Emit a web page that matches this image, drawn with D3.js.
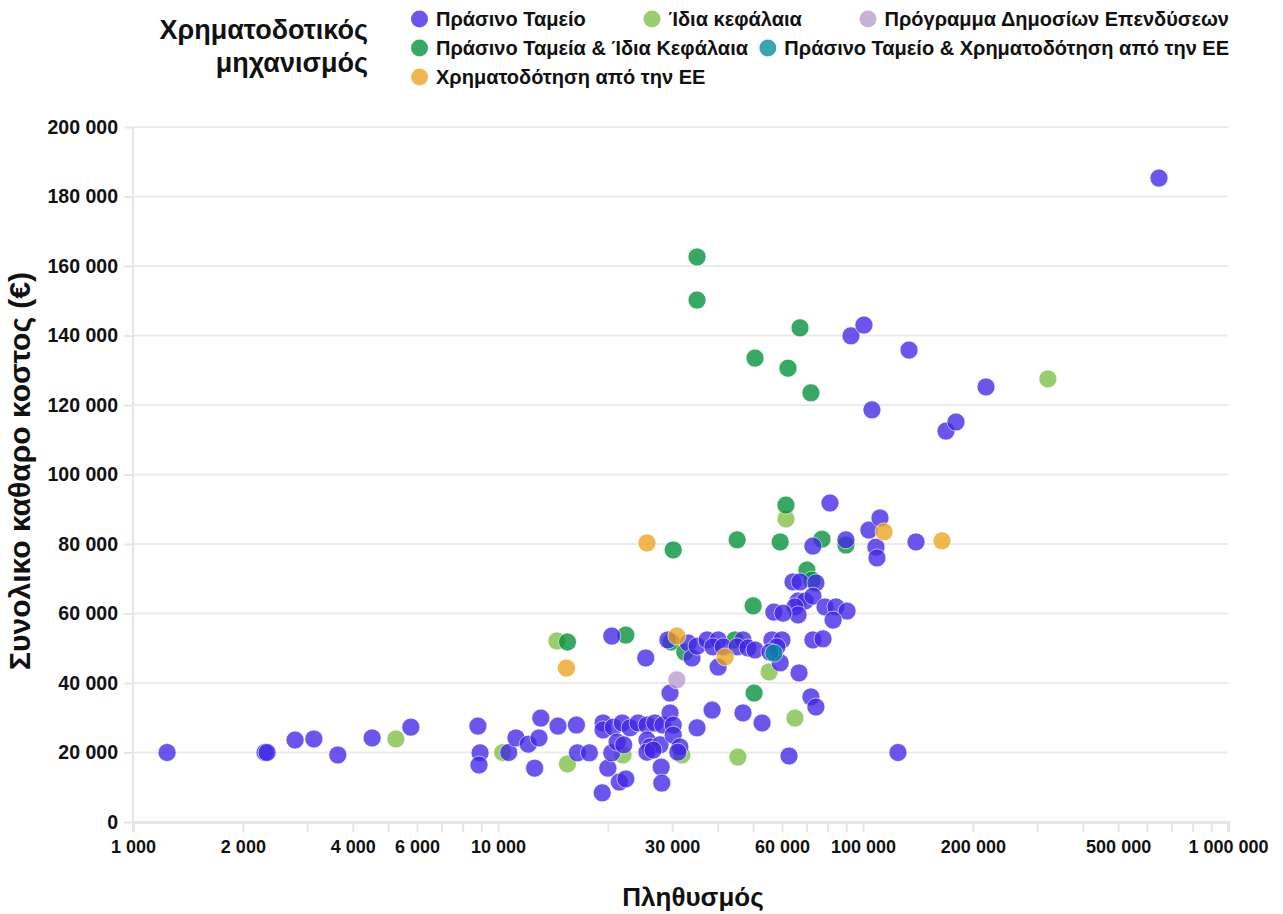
<!DOCTYPE html>
<html>
<head>
<meta charset="utf-8">
<script src="https://cdn.jsdelivr.net/npm/d3@7"></script>
<style>
body { margin: 0; background: #fff; }
text { font-family: "Liberation Sans", Arial, sans-serif; font-weight: bold; fill: #111; }
</style>
</head>
<body>
<div id="chart"></div>
<script>
var width = 1283, height = 914;
var margin = {top: 127, right: 55, bottom: 92, left: 133};

// funding mechanisms (legend order)
var groupNames = ["Πράσινο Ταμείο", "Ίδια κεφάλαια", "Πρόγραμμα Δημοσίων Επενδύσεων",
  "Πράσινο Ταμεία & Ίδια Κεφάλαια", "Πράσινο Ταμείο & Χρηματοδότηση από την ΕΕ", "Χρηματοδότηση από την ΕΕ"];
var groupColors = ["#4026e4", "#7ebf45", "#ba9acc", "#009038", "#008c9c", "#eca11d"];
var legendRows = [[0, 1, 2], [3, 4], [5]];

var xTickLabels = [1000, 2000, 4000, 6000, 10000, 30000, 60000, 100000, 200000, 500000, 1000000];
var yTicks = [0, 20000, 40000, 60000, 80000, 100000, 120000, 140000, 160000, 180000, 200000];

// Πράσινο Ταμείο
var greenFundPop = [1240, 2300, 2330, 2780, 3130, 3640, 4520, 5770, 8810, 8930, 8870, 10700, 11200, 12100, 12950,
  13100, 12600, 14600, 16400, 16500, 17800, 19300, 20000, 20500, 21500, 22400, 19400, 19400, 20700, 21900,
  23000, 24200, 25600, 26900, 28300, 21200, 22100, 25600, 26100, 27800, 29600, 30200, 30200, 29600, 31500,
  31100, 28000, 28100, 25600, 26600, 35100, 38600, 46900, 52900, 62700, 72000, 74300, 124700, 66800, 59300,
  20500, 25400, 29200, 33200, 34000, 35100, 37400, 40100, 38800, 41400, 40100, 46900, 45200, 48400, 50600,
  56300, 60000, 58100, 55600, 72900, 77700,
  64300, 67200, 74300, 66400, 69400, 72900, 65100, 66400, 57000, 60400, 78700, 84300, 90400, 82800,
  81200, 72900, 89800, 103800, 111300, 108500, 109200, 139700,
  92700, 100600, 133700, 105800, 217300, 168800, 179800, 647000];
var greenFundCost = [20000, 20000, 20000, 23600, 23900, 19300, 24200, 27300, 27600, 19900, 16400, 20000, 24200, 22400, 24200,
  29900, 15500, 27600, 27900, 19900, 19900, 8400, 15500, 19900, 11500, 12400, 28500, 26500, 27300, 28500,
  27100, 28500, 27900, 28500, 27900, 23000, 22200, 23600, 21600, 22200, 31400, 27900, 25000, 37100, 21600,
  20100, 15800, 11200, 20100, 20700, 27100, 32200, 31400, 28500, 19000, 36000, 33100, 20000, 42900, 45800,
  53500, 47200, 52400, 51500, 47200, 50600, 52400, 52400, 50400, 50400, 44600, 52400, 50400, 50100, 49500,
  52400, 52400, 50400, 48900, 52400, 52700,
  69100, 69100, 68800, 63600, 63600, 65000, 61900, 59600, 60400, 60100, 61900, 61900, 60700, 58100,
  91800, 79400, 81200, 84000, 87500, 79100, 76000, 80600,
  139900, 143000, 135800, 118600, 125200, 112500, 115100, 185300];

// Ίδια κεφάλαια
var ownFundsPop = [5250, 10300, 14500, 15500, 22000, 31900, 45400, 55300, 61500, 65100, 321000];
var ownFundsCost = [23900, 20000, 52100, 16700, 19300, 19300, 18700, 43200, 87200, 29900, 127500];

// Πρόγραμμα Δημοσίων Επενδύσεων
var pdePop = [30900];
var pdeCost = [40900];

// Πράσινο Ταμεία & Ίδια Κεφάλαια
var greenOwnPop = [15500, 22400, 29800, 30200, 32500, 35100, 35100, 45200, 44600, 50000, 50300, 50600, 59300,
  61500, 62300, 67200, 70200, 72500, 72000, 77200, 89800];
var greenOwnCost = [51800, 53800, 51800, 78300, 48900, 162600, 150200, 81200, 52400, 62200, 37100, 133500, 80600,
  91200, 130600, 142200, 72500, 69600, 123500, 81400, 79700];

// Πράσινο Ταμείο & Χρηματοδότηση από την ΕΕ
var greenEuPop = [57000];
var greenEuCost = [48600];

// Χρηματοδότηση από την ΕΕ
var euPop = [15400, 25600, 30900, 41900, 114200, 164600];
var euCost = [44300, 80300, 53500, 47500, 83500, 80900];

var series = [
  {g: 1, pop: ownFundsPop, cost: ownFundsCost},
  {g: 3, pop: greenOwnPop, cost: greenOwnCost},
  {g: 0, pop: greenFundPop, cost: greenFundCost},
  {g: 5, pop: euPop, cost: euCost},
  {g: 2, pop: pdePop, cost: pdeCost},
  {g: 4, pop: greenEuPop, cost: greenEuCost}
];
var points = [];
series.forEach(function (s) {
  s.pop.forEach(function (p, i) { points.push({g: s.g, pop: p, cost: s.cost[i]}); });
});

var fmt = function (v) { return d3.format(",")(v).replace(/,/g, " "); };

var svg = d3.select("#chart").append("svg")
  .attr("width", width)
  .attr("height", height);

var x = d3.scaleLog()
  .domain([1000, 1000000])
  .range([margin.left, width - margin.right]);

var y = d3.scaleLinear()
  .domain([0, 200000])
  .range([height - margin.bottom, margin.top]);

// horizontal grid
svg.append("g")
  .selectAll("line")
  .data(yTicks)
  .enter().append("line")
  .attr("x1", margin.left)
  .attr("x2", width - margin.right)
  .attr("y1", function (d) { return y(d); })
  .attr("y2", function (d) { return y(d); })
  .style("stroke", "#ebebeb")
  .style("stroke-width", 2);

// y axis
var yAxis = d3.axisLeft(y)
  .tickValues(yTicks)
  .tickSize(9)
  .tickPadding(6)
  .tickFormat(fmt);

var yg = svg.append("g")
  .attr("transform", "translate(" + margin.left + ",0)")
  .call(yAxis);
yg.select(".domain").remove();
yg.selectAll(".tick line").style("stroke", "#e6e6e6").style("stroke-width", 2);
yg.selectAll(".tick text").style("font-size", "19.5px").attr("font-family", null);

svg.append("line")
  .attr("x1", margin.left).attr("x2", margin.left)
  .attr("y1", margin.top).attr("y2", y(0) + 10)
  .style("stroke", "#e6e6e6").style("stroke-width", 2);

// x axis
var xAxis = d3.axisBottom(x)
  .ticks(20)
  .tickSize(10)
  .tickPadding(8)
  .tickFormat(function (d) { return xTickLabels.indexOf(d) >= 0 ? fmt(d) : ""; });

var xg = svg.append("g")
  .attr("transform", "translate(0," + y(0) + ")")
  .call(xAxis);
xg.select(".domain").style("stroke", "#e6e6e6").style("stroke-width", 3);
xg.selectAll(".tick line").style("stroke", "#e6e6e6").style("stroke-width", 2);
xg.selectAll(".tick text").style("font-size", "18px").attr("font-family", null);

// points
svg.append("g")
  .selectAll("circle")
  .data(points)
  .enter().append("circle")
  .attr("cx", function (d) { return x(d.pop); })
  .attr("cy", function (d) { return y(d.cost); })
  .attr("r", 9)
  .style("fill", function (d) { return groupColors[d.g]; })
  .style("fill-opacity", 0.78)
  .style("stroke", "#fff")
  .style("stroke-opacity", 0.6)
  .style("stroke-width", 1);

// axis titles
svg.append("text")
  .attr("x", 693)
  .attr("y", 906)
  .attr("text-anchor", "middle")
  .style("font-size", "26px")
  .text("Πληθυσμός");

svg.append("text")
  .attr("transform", "translate(30,471) rotate(-90)")
  .attr("text-anchor", "middle")
  .style("font-size", "30px")
  .text("Συνολικο καθαρο κοστος (€)");

// legend
svg.append("text")
  .attr("x", 368).attr("y", 39)
  .attr("text-anchor", "end")
  .style("font-size", "27px")
  .text("Χρηματοδοτικός");
svg.append("text")
  .attr("x", 368).attr("y", 72)
  .attr("text-anchor", "end")
  .style("font-size", "27px")
  .text("μηχανισμός");

var legX0 = 411, legX1 = 1229, r = 8.5;
legendRows.forEach(function (row, ri) {
  var cy = 19 + ri * 29;
  var items = row.map(function (gi) {
    var g = svg.append("g");
    g.append("circle")
      .attr("cx", r).attr("cy", cy).attr("r", r)
      .style("fill", groupColors[gi]).style("fill-opacity", 0.78);
    var t = g.append("text")
      .attr("x", 2 * r + 8).attr("y", cy + 7)
      .style("font-size", "20px")
      .text(groupNames[gi]);
    return {g: g, w: 2 * r + 8 + t.node().getComputedTextLength()};
  });
  var total = d3.sum(items, function (d) { return d.w; });
  var gap = items.length > 1 ? (legX1 - legX0 - total) / (items.length - 1) : 0;
  var cx = legX0;
  items.forEach(function (it) {
    it.g.attr("transform", "translate(" + cx + ",0)");
    cx += it.w + gap;
  });
});
</script>
</body>
</html>
